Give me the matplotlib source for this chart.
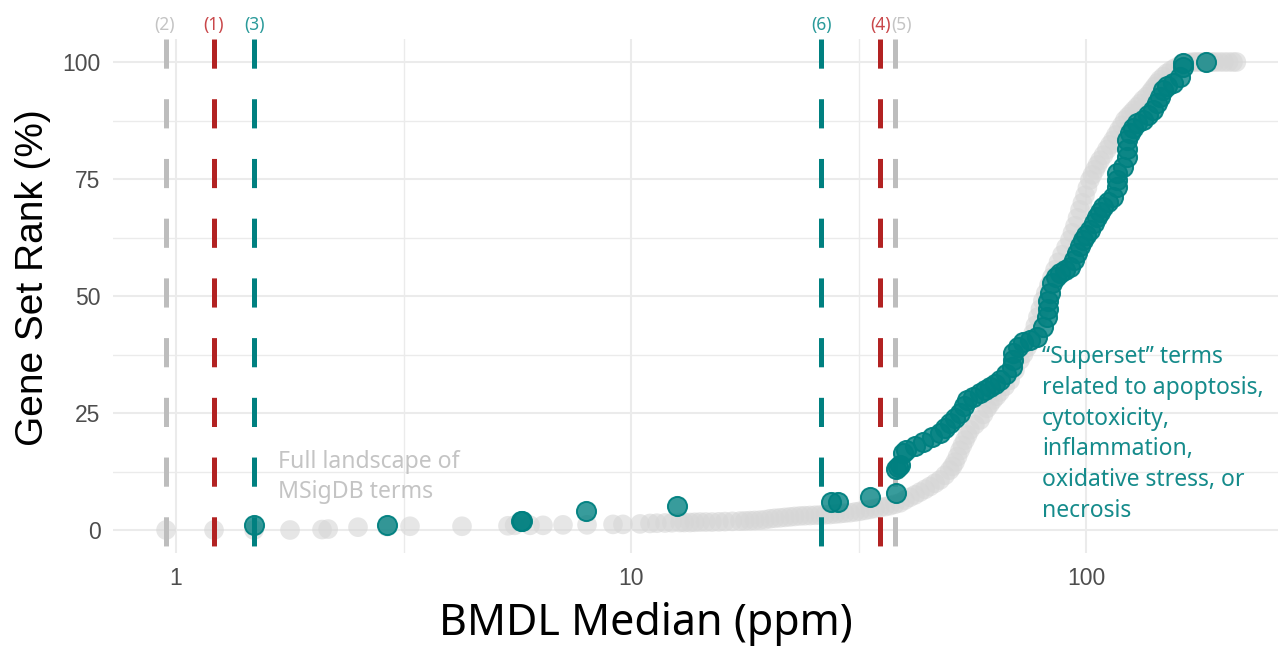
import matplotlib
matplotlib.use("Agg")
import matplotlib.pyplot as plt
from matplotlib.ticker import FixedLocator, NullFormatter

# ---------------- data ----------------
gray_bmdl = [0.951, 1.212, 1.484, 1.781, 2.094, 2.16, 2.512, 2.909, 3.268, 4.252,
             5.366, 5.55, 5.998, 6.407, 7.088, 8.005, 9.13, 9.60, 10.47, 11.01,
             11.4, 11.88, 12.3, 12.82, 13.1, 13.48, 13.8, 14.18, 14.6, 15.07,
             15.6, 16.09, 16.7, 17.36, 17.8, 18.26, 18.7, 19.21, 19.7, 20.21,
             20.7, 21.26, 21.8, 22.36, 22.9, 23.52, 24.1, 24.74, 25.4, 26.03,
             26.7, 27.37, 28.1, 28.80, 29.5, 30.29, 31.1, 31.87, 32.7, 33.52,
             34.4, 35.26, 36.2, 37.09, 38.0, 39.02, 40.0, 41.04, 42.1, 43.17,
             44.3, 45.41, 46.6, 47.77, 49.0, 50.2, 50.9, 51.53, 52.2, 52.86,
             53.5, 54.2, 54.9, 55.6, 57.0, 58.48, 59.5, 60.6, 61.5, 62.5,
             63.6, 64.7, 66.4, 68.1, 69.8, 71.6, 72.9, 74.2, 75.3, 76.5,
             77.4, 78.4, 79.4, 80.4, 81.6, 82.9, 84.2, 85.5, 87.0, 88.6,
             90.4, 92.2, 93.4, 94.6, 95.8, 97.0, 98.2, 99.5, 100.7, 102.0,
             103.3, 104.7, 106.0, 107.4, 109.3, 111.2, 112.9, 114.7, 116.4, 118.2,
             120.0, 121.8, 123.7, 125.6, 127.5, 129.5, 131.5, 133.5, 135.9, 138.3,
             140.0, 141.8, 143.6, 145.4, 148.0, 150.7, 153.8, 156.9, 161.0, 165.1,
             168.5, 171.9, 175.0, 178.1, 181.7, 185.4, 188.7, 192.1, 196.6, 201.1,
             205.7, 210.4, 214.0]
gray_rank = [0, 0, 0, 0, 0.1, 0.2, 0.6, 0.7, 0.8, 0.8,
             0.9, 1.0, 1.0, 1.0, 1.1, 1.1, 1.2, 1.2, 1.3, 1.4,
             1.45, 1.5, 1.55, 1.6, 1.6, 1.6, 1.65, 1.7, 1.7, 1.7,
             1.75, 1.8, 1.85, 1.9, 1.95, 2.0, 2.05, 2.1, 2.2, 2.4,
             2.5, 2.6, 2.7, 2.8, 2.9, 3.0, 3.05, 3.1, 3.15, 3.2,
             3.25, 3.3, 3.4, 3.5, 3.6, 3.7, 3.85, 4.0, 4.2, 4.4,
             4.6, 4.8, 5.0, 5.2, 5.5, 5.8, 6.4, 7.0, 7.5, 8.1,
             8.7, 9.3, 10.0, 10.7, 11.7, 12.8, 13.6, 14.5, 15.7, 17.0,
             18.1, 19.2, 20.3, 21.4, 22.5, 23.5, 24.7, 26.0, 26.9, 27.8,
             28.6, 29.5, 30.7, 32.0, 34.1, 36.3, 37.6, 39.0, 40.5, 42.0,
             43.7, 45.5, 47.2, 49.0, 50.6, 52.3, 54.0, 55.6, 57.2, 58.8,
             60.4, 62.0, 63.5, 65.0, 66.7, 68.4, 69.9, 71.5, 73.1, 74.8,
             75.9, 77.0, 78.0, 79.0, 80.1, 81.3, 82.3, 83.3, 84.4, 85.5,
             86.5, 87.6, 88.3, 89.0, 89.7, 90.4, 91.1, 91.9, 92.6, 93.4,
             94.1, 94.8, 95.5, 96.2, 96.9, 97.6, 98.2, 98.7, 99.3, 99.8,
             99.9, 100, 100, 100, 100, 100, 100, 100, 100, 100,
             100, 100, 100]

teal_bmdl = [1.484, 2.909, 5.731, 5.75, 7.965, 12.62, 27.52, 28.51, 33.52, 38.23,
             38.2, 38.6, 39.0, 39.6, 40.2, 42.0, 43.8, 45.8, 47.8, 49.0,
             50.2, 51.5, 52.9, 53.8, 54.8, 56.5, 58.5, 60.0, 61.5, 63.0,
             64.7, 66.8, 68.8, 69.0, 69.1, 70.8, 72.7, 75.3, 78.0, 80.4,
             82.1, 82.3, 82.5, 83.3, 84.2, 86.0, 87.7, 90.0, 92.2, 94.0,
             95.5, 97.0, 98.5, 100.2, 102.0, 104.0, 105.7, 107.5, 109.0, 112.0,
             114.7, 117.0, 117.0, 117.0, 120.6, 123.1, 123.1, 123.1, 125.0, 127.0,
             129.5, 133.5, 137.0, 140.4, 143.2, 145.5, 147.6, 151.0, 155.3, 160.9,
             163.4, 163.4, 183.5]
teal_rank = [1.1, 1.1, 1.9, 1.9, 4.1, 5.1, 6.0, 6.0, 7.0, 7.9,
             13.0, 13.5, 13.9, 16.5, 17.2, 18.0, 18.8, 19.8, 20.7, 21.8,
             22.9, 24.0, 25.0, 26.4, 27.8, 28.5, 29.3, 30.0, 30.6, 31.3,
             32.0, 33.4, 34.8, 36.3, 37.8, 39.0, 40.2, 40.7, 41.2, 43.4,
             45.5, 47.3, 49.0, 50.6, 52.8, 54.0, 55.0, 55.6, 56.2, 57.7,
             59.2, 60.6, 62.0, 63.0, 64.1, 65.5, 66.9, 68.0, 69.0, 70.1,
             71.2, 73.3, 74.8, 76.3, 77.6, 79.7, 81.5, 83.3, 84.8, 85.9,
             87.0, 87.6, 88.6, 89.7, 91.2, 92.6, 94.0, 94.8, 95.5, 96.8,
             98.9, 99.8, 100.0]

vline_bmdl = [0.951, 1.212, 1.484, 35.3, 38.0, 26.2]
vline_labels = ["(2)", "(1)", "(3)", "(4)", "(5)", "(6)"]
vline_colors = ["#bdbdbd", "#b22222", "#008080", "#b22222", "#bdbdbd", "#008080"]
label_colors = ["#c4c4c4", "#c9474a", "#2a9a9a", "#c9474a", "#c4c4c4", "#2a9a9a"]
label_dx_px = [-2, 0, 0, 0, 7, 0]

x_ticks = [1, 10, 100]
x_ticklabels = ["1", "10", "100"]
y_ticks = [0, 25, 50, 75, 100]

# ---------------- figure ----------------
W, H = 1278, 648
fig = plt.figure(figsize=(W / 100, H / 100), dpi=100)
ax_left, ax_right, ax_top, ax_bottom = 113, 1278, 38.6, 553.4
ax = fig.add_axes([ax_left / W, 1 - ax_bottom / H, (ax_right - ax_left) / W, (ax_bottom - ax_top) / H])
ax.set_xscale("log")
ax.set_xlim(10 ** ((ax_left - 176) / 455), 10 ** ((ax_right - 176) / 455))
ax.set_ylim(-5, 105)

for s in ax.spines.values():
    s.set_visible(False)

ax.xaxis.set_major_locator(FixedLocator(x_ticks))
ax.xaxis.set_minor_locator(FixedLocator([10 ** 0.5, 10 ** 1.5]))
ax.xaxis.set_minor_formatter(NullFormatter())
ax.set_xticklabels(x_ticklabels)
ax.set_yticks(y_ticks)
ax.set_yticks([12.5, 37.5, 62.5, 87.5], minor=True)
ax.tick_params(which="both", length=0)
ax.tick_params(axis="y", pad=9)
ax.tick_params(axis="x", pad=10)
for lab in ax.get_xticklabels() + ax.get_yticklabels():
    lab.set_fontfamily("Liberation Sans")
    lab.set_fontsize(16.5)
    lab.set_color("#4d4d4d")

ax.grid(which="major", color="#ebebeb", lw=1.5, zorder=0)
ax.grid(which="minor", color="#ebebeb", lw=1.0, zorder=0)
ax.set_axisbelow(True)

# gray landscape
ax.scatter(gray_bmdl, gray_rank, s=200, color="#d6d6d6", alpha=0.6, edgecolors="none", zorder=2)

# dashed vertical lines, dashes starting at top
for xv, c in zip(vline_bmdl, vline_colors):
    ax.plot([xv, xv], [105, -5], color=c, lw=3.6, linestyle=(0, (21 / 3.6, 22 / 3.6)),
            solid_capstyle="butt", dash_capstyle="butt", zorder=3)

# teal superset points
ax.scatter(teal_bmdl, teal_rank, s=190, facecolor=(0, 0.5, 0.5, 0.78),
           edgecolors=(0, 0.5, 0.5, 0.95), linewidths=1.4, zorder=4)

# top labels
for xv, lab, c, dx in zip(vline_bmdl, vline_labels, label_colors, label_dx_px):
    ax.annotate(lab, xy=(xv, 1), xycoords=("data", "axes fraction"),
                xytext=(dx * 0.72, 13.6 * 0.72), textcoords="offset points",
                ha="center", va="center", fontsize=12.5, color=c, family="Noto Sans",
                annotation_clip=False)

# annotations
ax.text(10 ** ((278 - 176) / 455), (530 - 477) / 4.68, "Full landscape of\nMSigDB terms",
        ha="left", va="center", fontsize=16.6, color="#c4c4c4", family="Noto Sans",
        linespacing=1.38, zorder=5)
ax.text(10 ** ((1042 - 176) / 455), (530 - 434) / 4.68,
        "\u201cSuperset\u201d terms\nrelated to apoptosis,\ncytotoxicity,\ninflammation,\noxidative stress, or\nnecrosis",
        ha="left", va="center", fontsize=16.5, color="#158b8b", family="Noto Sans",
        linespacing=1.38, zorder=5)

# axis titles
fig.text(646 / W, 1 - 624 / H, "BMDL Median (ppm)", ha="center", va="center",
         fontsize=31, family="Noto Sans", color="black")
fig.text(33 / W, 1 - 278 / H, "Gene Set Rank (%)", ha="center", va="center",
         rotation=90, fontsize=28, family="Liberation Sans", color="black")

fig.savefig("out.png", dpi=100)
